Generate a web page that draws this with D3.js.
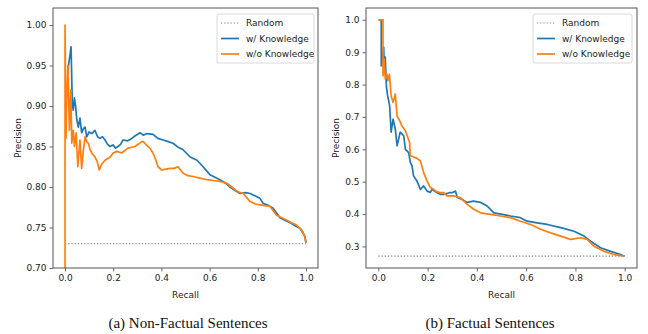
<!DOCTYPE html>
<html>
<head>
<meta charset="utf-8">
<script src="https://cdn.jsdelivr.net/npm/d3@7"></script>
<style>
  html, body { margin: 0; padding: 0; background: #fff; }
  svg { display: block; }
</style>
</head>
<body>
<div id="chart"></div>
<script>
// legend labels and captions
const seriesNames = ["Random", "w/ Knowledge", "w/o Knowledge"];
const captions = ["(a) Non-Factual Sentences", "(b) Factual Sentences"];

// tick values
const xTicks = [0, 0.2, 0.4, 0.6, 0.8, 1.0];
const yTicksA = [0.70, 0.75, 0.80, 0.85, 0.90, 0.95, 1.00];
const yTicksB = [0.3, 0.4, 0.5, 0.6, 0.7, 0.8, 0.9, 1.0];

// random baselines (positive rate)
const randomA = 0.73;
const randomB = 0.27;

// (a) non-factual: [recall, precision]
const withKnowA = [
  [0.012, 0.93], [0.014, 0.95], [0.02, 0.962], [0.025, 0.973], [0.03, 0.904], [0.034, 0.895],
  [0.039, 0.91], [0.044, 0.899], [0.049, 0.883], [0.055, 0.874], [0.062, 0.885], [0.069, 0.867],
  [0.076, 0.872], [0.083, 0.874], [0.09, 0.862], [0.1, 0.868], [0.111, 0.866], [0.124, 0.870],
  [0.135, 0.862], [0.145, 0.860], [0.155, 0.862], [0.166, 0.858], [0.176, 0.853], [0.187, 0.850],
  [0.199, 0.852], [0.21, 0.848], [0.22, 0.850], [0.231, 0.853], [0.241, 0.858], [0.26, 0.857],
  [0.277, 0.860], [0.29, 0.863], [0.311, 0.867], [0.325, 0.864], [0.34, 0.866], [0.365, 0.865],
  [0.385, 0.86], [0.407, 0.858], [0.428, 0.856], [0.448, 0.854], [0.47, 0.849], [0.49, 0.846],
  [0.519, 0.837], [0.548, 0.833], [0.573, 0.825], [0.602, 0.815], [0.622, 0.812], [0.643, 0.809],
  [0.665, 0.805], [0.685, 0.800], [0.714, 0.794], [0.726, 0.792], [0.75, 0.793], [0.768, 0.792],
  [0.79, 0.789], [0.809, 0.786], [0.822, 0.780], [0.845, 0.777], [0.863, 0.774], [0.878, 0.768],
  [0.892, 0.762], [0.912, 0.759], [0.934, 0.756], [0.955, 0.752], [0.975, 0.749], [0.99, 0.742],
  [0.996, 0.738], [1.0, 0.731]
];
const withoutKnowA = [
  [0.0, 0.69], [0.0, 1.0], [0.004, 0.86], [0.007, 0.907], [0.012, 0.950], [0.018, 0.870],
  [0.024, 0.920], [0.028, 0.854], [0.034, 0.870], [0.039, 0.850], [0.046, 0.867], [0.053, 0.825],
  [0.062, 0.858], [0.069, 0.823], [0.076, 0.845], [0.083, 0.862], [0.09, 0.856], [0.097, 0.854],
  [0.104, 0.846], [0.111, 0.842], [0.124, 0.837], [0.133, 0.832], [0.142, 0.821], [0.152, 0.828],
  [0.166, 0.833], [0.187, 0.837], [0.2, 0.842], [0.215, 0.844], [0.235, 0.842], [0.261, 0.848],
  [0.29, 0.850], [0.305, 0.853], [0.318, 0.856], [0.325, 0.856], [0.34, 0.851], [0.352, 0.848],
  [0.365, 0.842], [0.376, 0.834], [0.386, 0.825], [0.401, 0.821], [0.418, 0.822], [0.436, 0.823],
  [0.452, 0.823], [0.469, 0.825], [0.49, 0.817], [0.51, 0.814], [0.531, 0.813], [0.56, 0.811],
  [0.589, 0.809], [0.615, 0.808], [0.643, 0.807], [0.67, 0.805], [0.692, 0.800], [0.718, 0.794],
  [0.74, 0.792], [0.768, 0.782], [0.79, 0.779], [0.809, 0.778], [0.83, 0.777], [0.851, 0.776],
  [0.878, 0.765], [0.9, 0.762], [0.92, 0.759], [0.94, 0.756], [0.961, 0.753], [0.982, 0.747],
  [0.996, 0.739], [1.0, 0.731]
];

// (b) factual: [recall, precision]
const withKnowB = [
  [0.001, 1.0], [0.012, 1.0], [0.012, 0.858], [0.022, 0.915], [0.024, 0.848], [0.028, 0.885],
  [0.033, 0.792], [0.038, 0.765], [0.046, 0.734], [0.052, 0.653], [0.06, 0.693], [0.069, 0.662],
  [0.076, 0.611], [0.089, 0.653], [0.103, 0.642], [0.11, 0.600], [0.123, 0.590], [0.13, 0.560],
  [0.137, 0.549], [0.143, 0.518], [0.157, 0.502], [0.171, 0.476], [0.184, 0.487], [0.198, 0.471],
  [0.211, 0.467], [0.218, 0.476], [0.239, 0.466], [0.252, 0.461], [0.265, 0.461], [0.289, 0.466],
  [0.3, 0.466], [0.313, 0.471], [0.32, 0.452], [0.34, 0.445], [0.36, 0.436], [0.387, 0.440],
  [0.415, 0.436], [0.442, 0.425], [0.469, 0.404], [0.503, 0.399], [0.537, 0.394], [0.577, 0.389],
  [0.604, 0.378], [0.645, 0.373], [0.686, 0.368], [0.74, 0.358], [0.794, 0.347], [0.835, 0.332],
  [0.862, 0.316], [0.902, 0.296], [0.943, 0.285], [0.984, 0.275], [1.0, 0.27]
];
const withoutKnowB = [
  [0.001, 1.0], [0.019, 1.0], [0.019, 0.827], [0.024, 0.879], [0.028, 0.817], [0.035, 0.832],
  [0.039, 0.812], [0.045, 0.832], [0.052, 0.765], [0.06, 0.745], [0.069, 0.771], [0.076, 0.703],
  [0.087, 0.688], [0.096, 0.672], [0.11, 0.657], [0.117, 0.642], [0.127, 0.621], [0.13, 0.580],
  [0.157, 0.572], [0.171, 0.564], [0.184, 0.528], [0.198, 0.502], [0.211, 0.482], [0.225, 0.476],
  [0.232, 0.471], [0.252, 0.466], [0.265, 0.466], [0.279, 0.456], [0.306, 0.456], [0.333, 0.451],
  [0.361, 0.430], [0.387, 0.415], [0.415, 0.404], [0.455, 0.399], [0.496, 0.394], [0.537, 0.389],
  [0.577, 0.378], [0.618, 0.368], [0.659, 0.353], [0.699, 0.342], [0.74, 0.332], [0.78, 0.322],
  [0.821, 0.327], [0.848, 0.322], [0.875, 0.301], [0.916, 0.285], [0.957, 0.275], [1.0, 0.27]
];

const W = 648, H = 334;
const blue = "#1f77b4", orange = "#ff7f0e";

const svg = d3.select("#chart").append("svg")
  .attr("width", W)
  .attr("height", H)
  .attr("viewBox", [0, 0, W, H])
  .attr("font-family", "DejaVu Sans, sans-serif");

const drawPanel = (p) => {
  const x = d3.scaleLinear().domain([-0.05, 1.05]).range([p.l, p.r]);
  const y = d3.scaleLinear().domain(p.yDomain).range([p.b, p.t]);

  const g = svg.append("g");

  const clipId = "clip-" + p.id;
  g.append("clipPath").attr("id", clipId)
    .append("rect")
    .attr("x", p.l).attr("y", p.t)
    .attr("width", p.r - p.l).attr("height", p.b - p.t);

  // random baseline
  g.append("line")
    .attr("x1", x(0)).attr("x2", x(1))
    .attr("y1", y(p.random)).attr("y2", y(p.random))
    .attr("stroke", "#808080")
    .attr("stroke-width", 1.2)
    .attr("stroke-dasharray", "1.2,2");

  const line = d3.line().x((d) => x(d[0])).y((d) => y(d[1]));

  g.append("path")
    .attr("d", line(p.withKnow))
    .attr("fill", "none")
    .attr("stroke", blue)
    .attr("stroke-width", 1.7)
    .attr("stroke-linejoin", "round")
    .attr("clip-path", `url(#${clipId})`);

  g.append("path")
    .attr("d", line(p.withoutKnow))
    .attr("fill", "none")
    .attr("stroke", orange)
    .attr("stroke-width", 1.7)
    .attr("stroke-linejoin", "round")
    .attr("clip-path", `url(#${clipId})`);

  // axes
  const ax = g.append("g")
    .attr("transform", `translate(0,${p.b})`)
    .call(d3.axisBottom(x).tickValues(xTicks).tickFormat(d3.format(".1f")).tickSize(3.5).tickPadding(3));
  const ay = g.append("g")
    .attr("transform", `translate(${p.l},0)`)
    .call(d3.axisLeft(y).tickValues(p.yTicks).tickFormat(d3.format(p.yFmt)).tickSize(3.5).tickPadding(3));
  [ax, ay].forEach((a) => {
    a.select(".domain").remove();
    a.selectAll("line").attr("stroke", "#444").attr("stroke-width", 0.8);
    a.selectAll("text").attr("fill", "#222").attr("font-size", 9)
      .attr("font-family", "DejaVu Sans, sans-serif");
  });

  // frame
  g.append("rect")
    .attr("x", p.l).attr("y", p.t)
    .attr("width", p.r - p.l).attr("height", p.b - p.t)
    .attr("fill", "none")
    .attr("stroke", "#555")
    .attr("stroke-width", 1);

  // axis labels
  g.append("text")
    .attr("x", (p.l + p.r) / 2).attr("y", 298)
    .attr("text-anchor", "middle")
    .attr("font-size", 9).attr("fill", "#222")
    .text("Recall");
  g.append("text")
    .attr("transform", `translate(${p.yLabelX},${(p.t + p.b) / 2}) rotate(-90)`)
    .attr("text-anchor", "middle")
    .attr("font-size", 9).attr("fill", "#222")
    .text("Precision");

  // legend
  const lg = g.append("g").attr("transform", `translate(${p.legX},14)`);
  lg.append("rect")
    .attr("width", p.legW).attr("height", 49)
    .attr("rx", 2)
    .attr("fill", "#fff").attr("fill-opacity", 0.8)
    .attr("stroke", "#d0d0d0").attr("stroke-width", 0.8);
  const styles = [
    { c: "#808080", dash: "1.2,2", w: 1.2 },
    { c: blue, dash: null, w: 1.7 },
    { c: orange, dash: null, w: 1.7 }
  ];
  seriesNames.forEach((name, i) => {
    const yy = 9 + i * 15.5;
    lg.append("line")
      .attr("x1", 4).attr("x2", 22)
      .attr("y1", yy).attr("y2", yy)
      .attr("stroke", styles[i].c)
      .attr("stroke-width", styles[i].w)
      .attr("stroke-dasharray", styles[i].dash);
    lg.append("text")
      .attr("x", 29).attr("y", yy + 3.2)
      .attr("font-size", 9).attr("fill", "#222")
      .text(name);
  });

  // caption
  g.append("text")
    .attr("x", p.capX).attr("y", 328)
    .attr("text-anchor", "middle")
    .attr("font-family", "Liberation Serif, Times New Roman, serif")
    .attr("font-size", 15).attr("fill", "#111")
    .text(p.caption);
};

drawPanel({
  id: "a", l: 53, r: 318, t: 8, b: 268,
  yDomain: [0.70, 1.021], yTicks: yTicksA, yFmt: ".2f",
  random: randomA, withKnow: withKnowA, withoutKnow: withoutKnowA,
  yLabelX: 21, legX: 217, legW: 97, capX: 188, caption: captions[0]
});

drawPanel({
  id: "b", l: 366, r: 637, t: 8, b: 268,
  yDomain: [0.2335, 1.0365], yTicks: yTicksB, yFmt: ".1f",
  random: randomB, withKnow: withKnowB, withoutKnow: withoutKnowB,
  yLabelX: 339, legX: 533, legW: 99, capX: 490, caption: captions[1]
});
</script>
</body>
</html>
